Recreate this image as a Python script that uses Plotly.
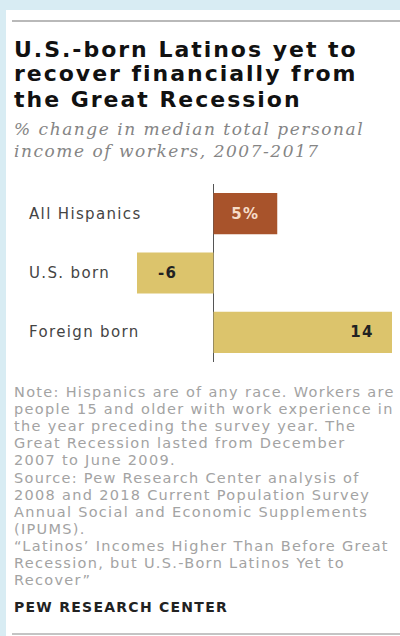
import plotly.graph_objects as go

W, H = 400, 636

categories = ["All Hispanics", "U.S. born", "Foreign born"]
values = [5, -6, 14]
value_labels = ["5%", "-6", "14"]
bar_colors = ["#a8532b", "#dcc46c", "#dcc46c"]
label_colors = ["#f6dcc8", "#222222", "#222222"]

title_lines = ["U.S.-born Latinos yet to", "recover financially from", "the Great Recession"]
subtitle_lines = ["% change in median total personal", "income of workers, 2007-2017"]
note_lines = [
    "Note: Hispanics are of any race. Workers are",
    "people 15 and older with work experience in",
    "the year preceding the survey year. The",
    "Great Recession lasted from December",
    "2007 to June 2009.",
    "Source: Pew Research Center analysis of",
    "2008 and 2018 Current Population Survey",
    "Annual Social and Economic Supplements",
    "(IPUMS).",
    "\u201cLatinos\u2019 Incomes Higher Than Before Great",
    "Recession, but U.S.-Born Latinos Yet to",
    "Recover\u201d",
]
source_label = "PEW RESEARCH CENTER"


def py(px):
    return 1 - px / H


def pxx(px):
    return px / W


ypos = list(range(len(categories)))

fig = go.Figure()
fig.add_trace(go.Bar(
    x=values, y=ypos, orientation="h",
    marker=dict(color=bar_colors, line=dict(width=0)),
    hoverinfo="skip", showlegend=False,
))

annotations = []
for i, t in enumerate(title_lines):
    annotations.append(dict(
        text="<b>" + t + "</b>", xref="paper", yref="paper", x=pxx(12), y=py(49 + i * 25),
        xanchor="left", yanchor="middle", align="left", showarrow=False,
        font=dict(family="DejaVu Sans", size=22, color="#111111"),
    ))
for i, t in enumerate(subtitle_lines):
    annotations.append(dict(
        text="<i>" + t + "</i>", xref="paper", yref="paper", x=pxx(12), y=py(129 + i * 22),
        xanchor="left", yanchor="middle", align="left", showarrow=False,
        font=dict(family="DejaVu Serif", size=17, color="#858585"),
    ))
for i, c in enumerate(categories):
    annotations.append(dict(
        text=c, xref="paper", yref="y", x=pxx(27), y=i,
        xanchor="left", yanchor="middle", align="left", showarrow=False,
        font=dict(family="DejaVu Sans", size=15, color="#444444"),
    ))
for i, (v, lab) in enumerate(zip(values, value_labels)):
    annotations.append(dict(
        text="<b>" + lab + "</b>", xref="x", yref="y", x=v, y=i,
        xanchor="right" if v > 0 else "left",
        align="right" if v > 0 else "left",
        xshift=-16 if v > 0 else 19,
        yanchor="middle", showarrow=False,
        font=dict(family="DejaVu Sans", size=15, color=label_colors[i]),
    ))
for i, t in enumerate(note_lines):
    annotations.append(dict(
        text=t, xref="paper", yref="paper", x=pxx(12), y=py(392 + i * 17.1),
        xanchor="left", yanchor="middle", align="left", showarrow=False,
        font=dict(family="DejaVu Sans", size=14.5, color="#a3a3a3"),
    ))
annotations.append(dict(
    text="<b>" + source_label + "</b>", xref="paper", yref="paper", x=pxx(12), y=py(607),
    xanchor="left", yanchor="middle", align="left", showarrow=False,
    font=dict(family="DejaVu Sans", size=14, color="#222222"),
))

shapes = [
    dict(type="rect", xref="paper", yref="paper", x0=pxx(6), x1=1.01, y0=-0.01, y1=py(10),
         fillcolor="white", line=dict(width=0), layer="below"),
    dict(type="line", xref="paper", yref="paper", x0=pxx(12), x1=1, y0=py(21), y1=py(21),
         line=dict(color="#b9b9b9", width=2)),
    dict(type="line", xref="paper", yref="paper", x0=pxx(12), x1=1, y0=py(634), y1=py(634),
         line=dict(color="#c4c4c4", width=2)),
]

fig.update_layout(
    width=W, height=H,
    margin=dict(l=0, r=0, t=0, b=0),
    paper_bgcolor="#d8ecf3",
    plot_bgcolor="rgba(0,0,0,0)",
    bargap=0.305,
    xaxis=dict(domain=[pxx(137), pxx(392)], range=[-6, 14], showgrid=False,
               showticklabels=False, ticks="", zeroline=True, zerolinecolor="#555555",
               zerolinewidth=1, fixedrange=True),
    yaxis=dict(domain=[py(362), py(184)], range=[2.5, -0.5], showgrid=False,
               showticklabels=False, ticks="", zeroline=False, fixedrange=True),
    annotations=annotations,
    shapes=shapes,
)

post = (
    "document.body.style.margin='0';document.body.style.overflow='hidden';"
    "document.head.insertAdjacentHTML('beforeend',"
    "'<style>.annotation-text{letter-spacing:0.09em}</style>');"
)
fig.write_html("out.html", config={"displayModeBar": False}, post_script=post)
